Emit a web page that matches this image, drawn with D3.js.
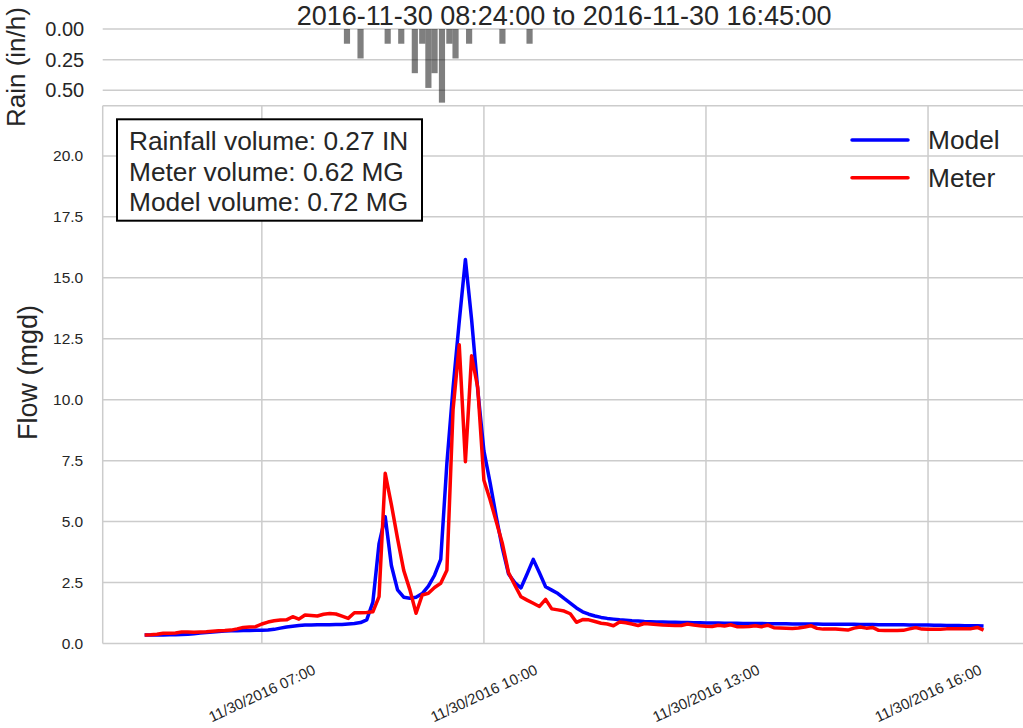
<!DOCTYPE html>
<html>
<head>
<meta charset="utf-8">
<script src="https://cdnjs.cloudflare.com/ajax/libs/d3/7.8.5/d3.min.js"></script>
<style>
body { margin: 0; background: #fff; }
text { font-family: 'Liberation Sans', Arial, sans-serif; fill: #262626; }
</style>
</head>
<body>
<div id="chart"></div>
<script>
var day = '2016-11-30'
var first_time = '05:25'
var step_minutes = 5
var title_text = '2016-11-30 08:24:00 to 2016-11-30 16:45:00'

// flow every 5 minutes, one row per hour (first row starts 05:25)
var model_flow = [
    0.35,0.35,0.35,0.35,0.36,0.36,0.37,
    0.38,0.40,0.43,0.45,0.47,0.49,0.51,0.52,0.52,0.53,0.53,0.54,
    0.54,0.55,0.58,0.63,0.68,0.71,0.74,0.76,0.76,0.77,0.77,0.77,
    0.78,0.78,0.80,0.82,0.86,0.97,1.70,4.10,5.20,3.20,2.20,1.90,
    1.86,1.90,2.05,2.35,2.80,3.45,7.40,10.5,13.2,15.75,13.3,10.4,
    7.90,6.60,5.20,3.90,2.85,2.50,2.28,2.85,3.45,2.90,2.33,2.19,
    2.05,1.85,1.66,1.46,1.30,1.20,1.13,1.07,1.03,1.00,0.97,0.95,
    0.93,0.92,0.90,0.89,0.88,0.88,0.87,0.87,0.86,0.86,0.85,0.85,
    0.84,0.84,0.84,0.83,0.83,0.83,0.82,0.82,0.82,0.82,0.81,0.81,
    0.81,0.81,0.80,0.80,0.80,0.80,0.80,0.79,0.79,0.79,0.79,0.79,
    0.79,0.78,0.78,0.78,0.77,0.77,0.77,0.77,0.77,0.76,0.76,0.76,
    0.76,0.75,0.75,0.74,0.74,0.74,0.73,0.73,0.73,0.72]
var meter_flow = [
    0.35,0.36,0.38,0.42,0.42,0.43,0.47,
    0.47,0.46,0.47,0.48,0.50,0.52,0.53,0.55,0.60,0.66,0.68,0.69,
    0.80,0.88,0.93,0.96,0.97,1.10,1.00,1.17,1.15,1.13,1.20,1.23,
    1.21,1.12,1.03,1.26,1.26,1.27,1.30,1.92,6.98,5.70,4.30,3.00,
    2.20,1.24,1.99,2.06,2.30,2.47,3.00,9.60,12.25,7.46,11.8,10.5,
    6.70,5.90,5.00,4.10,2.90,2.40,1.92,1.78,1.65,1.52,1.81,1.42,
    1.38,1.33,1.22,0.87,0.98,0.97,0.90,0.83,0.80,0.73,0.88,0.85,
    0.80,0.74,0.82,0.80,0.78,0.76,0.75,0.74,0.74,0.80,0.76,0.73,
    0.71,0.70,0.75,0.72,0.77,0.69,0.69,0.70,0.73,0.69,0.75,0.65,
    0.64,0.63,0.62,0.64,0.68,0.73,0.62,0.59,0.59,0.59,0.57,0.55,
    0.63,0.68,0.63,0.66,0.54,0.53,0.53,0.53,0.54,0.60,0.65,0.59,
    0.58,0.58,0.58,0.60,0.61,0.61,0.61,0.61,0.66,0.55]

var rain_times = ['08:09','08:20','08:42','08:53','09:04','09:10','09:15','09:20','09:26','09:32','09:37','09:48','10:15','10:37']
var rain_values = [0.12,0.24,0.12,0.12,0.36,0.12,0.48,0.36,0.60,0.12,0.24,0.12,0.12,0.12]

var flow_ticks = [0, 2.5, 5, 7.5, 10, 12.5, 15, 17.5, 20]
var rain_ticks = [0, 0.25, 0.5]
var time_ticks = ['07:00','10:00','13:00','16:00']
var box_text = ['Rainfall volume: 0.27 IN','Meter volume: 0.62 MG','Model volume: 0.72 MG']
var series_names = ['Model','Meter']
var series_colors = ['#0000ff','#ff0000']

var plot_left = 102.7, plot_right = 1025.5
var flow_top = 105.7, flow_bottom = 643.5
var rain_top = 29, rain_bottom = 105.1
var grid_color = '#cccccc'

var svg = d3.select('#chart')
            .append('svg')
            .attr('width', 1023)
            .attr('height', 728)

var parse = d3.utcParse('%Y-%m-%d %H:%M')
var start = parse(day + ' ' + first_time)
var times = model_flow.map(function(d, i){ return d3.utcMinute.offset(start, i*step_minutes) })
var span = times[times.length-1] - times[0]

var x = d3.scaleUtc()
    .domain([new Date(+times[0] - span*0.05), new Date(+times[times.length-1] + span*0.05)])
    .range([plot_left, plot_right])
var y = d3.scaleLinear().domain([0, 22.06]).range([flow_bottom, flow_top])
var y_rain = d3.scaleLinear().domain([0, 0.62]).range([rain_top, rain_bottom])

var tick_dates = time_ticks.map(function(t){ return parse(day + ' ' + t) })

// grid of the flow panel
var grid = svg.append('g')
grid.selectAll('line.vgrid')
    .data(tick_dates)
    .enter().append('line')
    .attr('class', 'vgrid')
    .attr('x1', function(d){ return x(d) })
    .attr('x2', function(d){ return x(d) })
    .attr('y1', flow_top)
    .attr('y2', flow_bottom)
grid.selectAll('line.hgrid')
    .data(flow_ticks)
    .enter().append('line')
    .attr('class', 'hgrid')
    .attr('x1', plot_left)
    .attr('x2', plot_right)
    .attr('y1', function(d){ return y(d) })
    .attr('y2', function(d){ return y(d) })
grid.append('line')
    .attr('x1', plot_left).attr('x2', plot_left)
    .attr('y1', flow_top).attr('y2', flow_bottom)
grid.append('line')
    .attr('x1', plot_left).attr('x2', plot_right)
    .attr('y1', flow_top).attr('y2', flow_top)
grid.selectAll('line.rgrid')
    .data(rain_ticks)
    .enter().append('line')
    .attr('class', 'rgrid')
    .attr('x1', plot_left)
    .attr('x2', plot_right)
    .attr('y1', function(d){ return y_rain(d) })
    .attr('y2', function(d){ return y_rain(d) })
grid.selectAll('line')
    .attr('stroke', grid_color)
    .attr('stroke-width', 1.5)

// flow lines
var line = d3.line()
    .x(function(d){ return x(d.t) })
    .y(function(d){ return y(d.v) })
var series = [model_flow, meter_flow]
series.forEach(function(vals, k){
    svg.append('path')
        .datum(vals.map(function(v, i){ return {t: times[i], v: v} }))
        .attr('d', line)
        .attr('fill', 'none')
        .attr('stroke', series_colors[k])
        .attr('stroke-width', 3.5)
        .attr('stroke-linejoin', 'round')
})

// rain bars
var rain_data = rain_times.map(function(t, i){ return {t: parse(day + ' ' + t), v: rain_values[i]} })
svg.selectAll('rect.rain')
    .data(rain_data)
    .enter().append('rect')
    .attr('class', 'rain')
    .attr('x', function(d){ return x(d3.utcSecond.offset(d.t, -150)) })
    .attr('width', function(d){ return x(d3.utcMinute.offset(d.t, 5)) - x(d.t) })
    .attr('y', rain_top)
    .attr('height', function(d){ return y_rain(d.v) - rain_top })
    .attr('fill', '#000')
    .attr('fill-opacity', 0.5)

// y axes
var flow_axis = svg.append('g')
    .attr('transform', 'translate(' + plot_left + ',0)')
    .call(d3.axisLeft(y).tickValues(flow_ticks).tickFormat(d3.format('.1f')).tickSize(0).tickPadding(19.5))
flow_axis.select('.domain').remove()
flow_axis.selectAll('text')
    .style('font-size', '15.5px')
    .style('font-family', "'Liberation Sans', Arial, sans-serif")
    .attr('fill', '#262626')

var rain_axis = svg.append('g')
    .attr('transform', 'translate(' + plot_left + ',0)')
    .call(d3.axisLeft(y_rain).tickValues(rain_ticks).tickFormat(d3.format('.2f')).tickSize(0).tickPadding(18.5))
rain_axis.select('.domain').remove()
rain_axis.selectAll('text')
    .style('font-size', '20px')
    .style('font-family', "'Liberation Sans', Arial, sans-serif")
    .attr('fill', '#262626')

// x tick labels, rotated
var fmt = d3.utcFormat('%m/%d/%Y %H:%M')
svg.selectAll('text.xlabel')
    .data(tick_dates)
    .enter().append('text')
    .attr('class', 'xlabel')
    .attr('x', function(d){ return x(d) })
    .attr('y', 693)
    .attr('text-anchor', 'middle')
    .attr('dominant-baseline', 'central')
    .attr('transform', function(d){ return 'rotate(-25,' + x(d) + ',693)' })
    .style('font-size', '15px')
    .text(function(d){ return fmt(d) })

// axis titles
svg.append('text')
    .attr('transform', 'translate(37,' + ((flow_top + flow_bottom)/2 - 2) + ') rotate(-90)')
    .attr('text-anchor', 'middle')
    .style('font-size', '27px')
    .text('Flow (mgd)')
svg.append('text')
    .attr('transform', 'translate(25,' + (rain_top + rain_bottom)/2 + ') rotate(-90)')
    .attr('text-anchor', 'middle')
    .style('font-size', '26px')
    .text('Rain (in/h)')

svg.append('text')
    .attr('x', (plot_left + plot_right)/2)
    .attr('y', 25)
    .attr('text-anchor', 'middle')
    .style('font-size', '27px')
    .text(title_text)

// volume box
svg.append('rect')
    .attr('x', 117)
    .attr('y', 119.3)
    .attr('width', 305)
    .attr('height', 101.4)
    .attr('fill', '#fff')
    .attr('stroke', '#000')
    .attr('stroke-width', 2)
svg.selectAll('text.box')
    .data(box_text)
    .enter().append('text')
    .attr('class', 'box')
    .attr('x', 129)
    .attr('y', function(d, i){ return 150 + i*30.7 })
    .style('font-size', '26.3px')
    .text(function(d){ return d })

// legend
var legend = svg.selectAll('g.legend')
    .data(series_names)
    .enter().append('g')
    .attr('class', 'legend')
    .attr('transform', function(d, i){ return 'translate(0,' + (140 + i*37.7) + ')' })
legend.append('line')
    .attr('x1', 852)
    .attr('x2', 908)
    .attr('stroke', function(d, i){ return series_colors[i] })
    .attr('stroke-width', 3.5)
    .attr('stroke-linecap', 'round')
legend.append('text')
    .attr('x', 928)
    .attr('y', 9)
    .style('font-size', '26.3px')
    .text(function(d){ return d })
</script>
</body>
</html>
